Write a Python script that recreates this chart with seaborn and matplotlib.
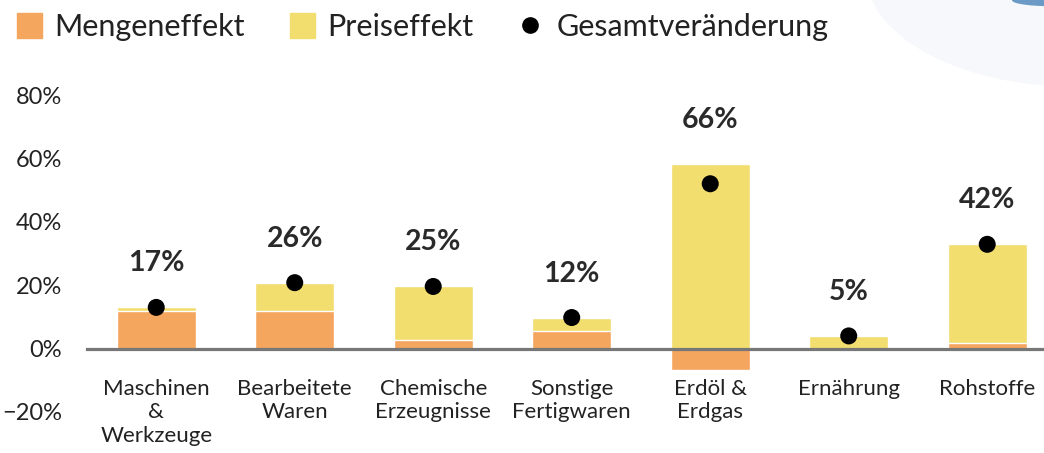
import numpy as np
import matplotlib.pyplot as plt
import seaborn as sns
from matplotlib.lines import Line2D
from matplotlib.patches import Ellipse

# ---- Data ----
kategorien = ["Maschinen\n&\nWerkzeuge", "Bearbeitete\nWaren", "Chemische\nErzeugnisse",
              "Sonstige\nFertigwaren", "Erdöl &\nErdgas", "Ernährung", "Rohstoffe"]
mengeneffekt = [12.0, 12.0, 2.6, 5.7, -6.7, 0.0, 1.7]
preiseffekt = [1.2, 8.8, 17.0, 4.1, 58.1, 4.1, 31.2]
gesamt_punkt = [13.0, 20.8, 19.6, 9.8, 52.0, 4.0, 32.9]
gesamt_label = ["17%", "26%", "25%", "12%", "66%", "5%", "42%"]
y_ticks = [-20, 0, 20, 40, 60, 80]

# ---- Style ----
sns.set_theme(style="white")
plt.rcParams["font.family"] = ["Lato", "DejaVu Sans"]
orange = "#F4A55E"
yellow = "#F2DD6F"
text_c = "#222222"

menge = np.array(mengeneffekt)
preis = np.array(preiseffekt)
top_stack = np.clip(menge, 0, None) + preis
pos = list(range(len(kategorien)))

fig = plt.figure(figsize=(10.44, 4.53), dpi=100)

# faint blue decoration top right
fig.add_artist(Ellipse((1.03, 1.06), 0.40, 0.50, transform=fig.transFigure,
                       color="#f6f8fb", zorder=0))
fig.add_artist(Ellipse((1.01, 1.0), 0.08, 0.025, transform=fig.transFigure,
                       color="#6b9ac6", zorder=0))

ax = fig.add_axes([87 / 1044, 41 / 453, 1 - 87 / 1044, 317 / 453])
ax.patch.set_alpha(0)

# stacked bars: total positive part in yellow, quantity effect on top in orange
sns.barplot(x=pos, y=top_stack, color=yellow, width=0.57,
            saturation=1, ax=ax, native_scale=True, zorder=2)
sns.barplot(x=pos, y=menge, color=orange, width=0.57,
            saturation=1, ax=ax, native_scale=True, zorder=3)
sns.scatterplot(x=pos, y=gesamt_punkt, color="black", s=150,
                edgecolor="none", ax=ax, zorder=5)

for i, lab in enumerate(gesamt_label):
    y = max(top_stack[i], gesamt_punkt[i])
    ax.annotate(lab, (i, y), xytext=(0, 44), textcoords="offset pixels",
                ha="center", va="center", fontsize=20.5, color="#2a2a2a", fontweight="bold")

ax.set_xlim(-0.5, 6.41)
ax.set_ylim(-20, 80)
ax.tick_params(axis="both", length=0, labelcolor=text_c)
ax.tick_params(axis="y", pad=18, labelsize=17)
ax.tick_params(axis="x", pad=22, labelsize=16)
ax.set_yticks(y_ticks)
ax.set_yticklabels([f"{v}%".replace("-", "\u2212") for v in y_ticks])
ax.set_xticks(pos)
ax.set_xticklabels(kategorien, linespacing=1.0)
for s in ["top", "right", "left"]:
    ax.spines[s].set_visible(False)
ax.spines["bottom"].set_position(("data", 0))
ax.spines["bottom"].set_color("#777777")
ax.spines["bottom"].set_linewidth(2.3)
ax.spines["bottom"].set_zorder(4)
ax.set_xlabel("")
ax.set_ylabel("")
ax.grid(False)

handles = [
    Line2D([], [], marker="s", linestyle="none", markersize=18, color=orange),
    Line2D([], [], marker="s", linestyle="none", markersize=18, color=yellow),
    Line2D([], [], marker="o", linestyle="none", markersize=11, color="black"),
]
fig.legend(handles, ["Mengeneffekt", "Preiseffekt", "Gesamtveränderung"], ncol=3,
           loc="upper left", bbox_to_anchor=(0.001, 0.999), frameon=False, fontsize=22,
           handlelength=1.0, handletextpad=0.35, columnspacing=1.35, borderaxespad=0.0,
           labelcolor=text_c)

fig.savefig("out.png", dpi=100)
